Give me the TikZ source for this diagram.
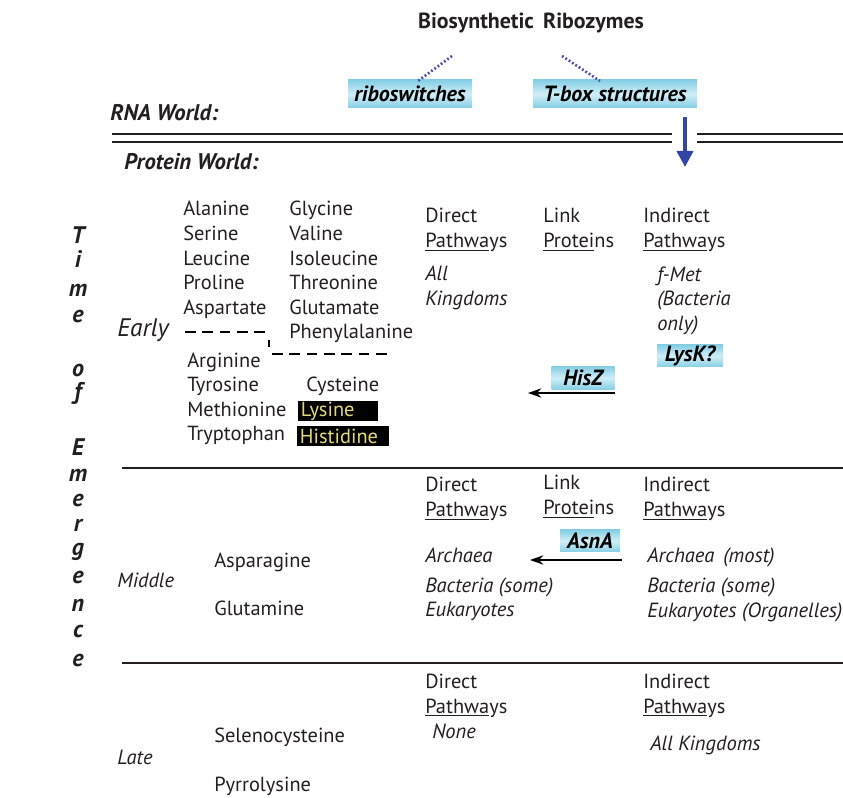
\documentclass[tikz,border=0pt]{standalone}
\usepackage{fontspec}
\setmainfont{PT Sans}
\usetikzlibrary{arrows.meta}
\definecolor{boxedge}{HTML}{86CFE5}
\definecolor{boxmid}{HTML}{D0EEF7}
\definecolor{dotblue}{HTML}{5050A8}
\definecolor{arrblue}{HTML}{3346A8}
\definecolor{lysyellow}{HTML}{E2DA78}
\definecolor{ink}{HTML}{231F20}
\begin{document}
\begin{tikzpicture}[x=0.75pt,y=-0.75pt,
  every node/.style={inner sep=0pt, text=ink},
  txt/.style={anchor=base west, font=\fontsize{15.3}{17}\selectfont},
  itx/.style={txt, font=\fontsize{15.4}{17}\selectfont\itshape},
  bix/.style={txt, font=\fontsize{17}{19}\selectfont\bfseries\itshape},
  bluebox/.style={top color=boxedge, bottom color=boxedge, middle color=boxmid,
    font=\fontsize{16.5}{18}\selectfont\bfseries\itshape, text=black},
  blackbox/.style={fill=black, text=lysyellow, anchor=west,
    font=\fontsize{15.3}{17}\selectfont, inner xsep=2pt},
  vlet/.style={font=\fontsize{18}{19}\selectfont\bfseries\itshape, anchor=base},
  thick rule/.style={line width=2.2pt, draw=ink},
  dotline/.style={dotblue, line width=2pt, dash pattern=on 1.4pt off 1.6pt}
]
\useasboundingbox (0,0) rectangle (843,798);

% title and RNA-world part
\node[font=\fontsize{16.4}{18}\selectfont\bfseries, anchor=base] (title) at (531,29) {Biosynthetic\, Ribozymes};
\node[bluebox, minimum width=124*0.75pt, minimum height=28*0.75pt] (ribo) at (410,94) {riboswitches};
\node[bluebox, minimum width=164*0.75pt, minimum height=28*0.75pt] (tbox) at (615,94) {T-box structures};
\coordinate (t1) at (452,56);
\coordinate (t2) at (562,56);
\coordinate (r1) at (418,81);
\coordinate (r2) at (600,81);
\draw[dotline] (t1) -- (r1);
\draw[dotline] (t2) -- (r2);

\node[bix] (rna) at (110,121) {RNA World:};
\node[bix] (prot) at (124,170) {Protein World:};

\coordinate (dlA) at (112,134);
\coordinate (dlB) at (672,134);
\coordinate (dlC) at (697,134);
\coordinate (dlD) at (843,134);
\coordinate (dlE) at (112,142);
\coordinate (dlF) at (672,142);
\coordinate (dlG) at (697,142);
\coordinate (dlH) at (843,142);
\draw[line width=2pt, draw=ink] (dlA) -- (dlB) (dlC) -- (dlD);
\draw[line width=2pt, draw=ink] (dlE) -- (dlF) (dlG) -- (dlH);

\coordinate (ba) at (685,117);
\coordinate (bb) at (685,167);
\draw[arrblue, line width=3pt, -{Triangle[length=12pt,width=12pt]}] (ba) -- (bb);

% vertical label
\foreach \l/\y [count=\i] in {T/244,i/268,m/297,e/323,o/377,f/400,E/456,m/482,e/507,r/532,g/556,e/583,n/611,c/637,e/666}
  \node[vlet] (v\i) at (78,\y) {\l};

% row labels
\node[itx, font=\fontsize{19}{20}\selectfont\itshape] (early) at (117,337) {Early};
\node[itx] (middle) at (117,587) {Middle};
\node[itx] (late) at (117,764) {Late};

% Early amino acids
\node[txt] (ala) at (183,216) {Alanine};
\node[txt] (ser) at (183,241) {Serine};
\node[txt] (leu) at (183,266) {Leucine};
\node[txt] (pro) at (183,290) {Proline};
\node[txt] (asp) at (183,315) {Aspartate};
\node[txt] (gly) at (289,216) {Glycine};
\node[txt] (val) at (289,241) {Valine};
\node[txt] (ile) at (289,266) {Isoleucine};
\node[txt] (thr) at (289,290) {Threonine};
\node[txt] (glu) at (289,315) {Glutamate};
\node[txt] (phe) at (289,339) {Phenylalanine};
\node[txt] (arg) at (187,368) {Arginine};
\node[txt] (tyr) at (187,392) {Tyrosine};
\node[txt] (met) at (187,417) {Methionine};
\node[txt] (trp) at (187,441) {Tryptophan};
\node[txt] (cys) at (306,392) {Cysteine};
\node[blackbox, minimum width=78*0.75pt, minimum height=20*0.75pt, text width=74*0.75pt] (lys) at (298,411) {Lysine};
\node[blackbox, minimum width=90*0.75pt, minimum height=20*0.75pt, text width=86*0.75pt] (his) at (297,436) {Histidine};

\coordinate (da) at (185,332);
\coordinate (db) at (267,332);
\coordinate (dc) at (269,340);
\coordinate (dd) at (269,347);
\coordinate (de) at (272,354);
\coordinate (df) at (388,354);
\draw[line width=1.8pt, dash pattern=on 8pt off 5pt] (da) -- (db);
\draw[line width=1.8pt] (dc) -- (dd);
\draw[line width=1.8pt, dash pattern=on 8pt off 5pt] (de) -- (df);

% Early pathway columns
\node[txt] (ed1) at (425,223) {Direct};
\node[txt] (ed2) at (425,248) {\underline{Pathwa}ys};
\node[txt] (el1) at (543,223) {Link};
\node[txt] (el2) at (543,248) {\underline{Protei}ns};
\node[txt] (ei1) at (643,223) {Indirect};
\node[txt] (ei2) at (643,248) {\underline{Pathwa}ys};
\node[itx] (eall1) at (425,281) {All};
\node[itx] (eall2) at (425,306) {Kingdoms};
\node[itx] (fm1) at (657,282) {f-Met};
\node[itx] (fm2) at (657,306) {(Bacteria};
\node[itx] (fm3) at (657,331) {only)};
\node[bluebox, minimum width=66*0.75pt, minimum height=22*0.75pt] (lysk) at (690,356) {LysK?};
\node[bluebox, minimum width=63*0.75pt, minimum height=23*0.75pt] (hisz) at (583,378) {HisZ};
\coordinate (ha) at (615,393);
\coordinate (hb) at (528,393);
\draw[line width=1.3pt, -{Stealth[length=10pt,width=7pt]}] (ha) -- (hb);

% first separator
\coordinate (s1a) at (122,468);
\coordinate (s1b) at (843,468);
\draw[thick rule] (s1a) -- (s1b);

% Middle
\node[txt] (asn) at (214,567) {Asparagine};
\node[txt] (gln) at (214,615) {Glutamine};
\node[txt] (md1) at (425,492) {Direct};
\node[txt] (md2) at (425,517) {\underline{Pathwa}ys};
\node[txt] (ml1) at (543,490) {Link};
\node[txt] (ml2) at (543,515) {\underline{Protei}ns};
\node[txt] (mi1) at (643,492) {Indirect};
\node[txt] (mi2) at (643,517) {\underline{Pathwa}ys};
\node[bluebox, minimum width=60*0.75pt, minimum height=22*0.75pt] (asna) at (590,541) {AsnA};
\coordinate (aa) at (622,560);
\coordinate (ab) at (530,560);
\draw[line width=1.3pt, -{Stealth[length=10pt,width=7pt]}] (aa) -- (ab);
\node[itx] (mda) at (425,562) {Archaea};
\node[itx] (mdb) at (425,592) {Bacteria (some)};
\node[itx] (mdc) at (425,616) {Eukaryotes};
\node[itx] (mia) at (647,562) {Archaea\, (most)};
\node[itx] (mib) at (647,592) {Bacteria (some)};
\node[itx] (mic) at (647,617) {Eukaryotes (Organelles)};

% second separator
\coordinate (s2a) at (122,663);
\coordinate (s2b) at (843,663);
\draw[thick rule] (s2a) -- (s2b);

% Late
\node[txt] (sec) at (214,742) {Selenocysteine};
\node[txt] (pyl) at (214,791) {Pyrrolysine};
\node[txt] (ld1) at (425,688) {Direct};
\node[txt] (ld2) at (425,713) {\underline{Pathwa}ys};
\node[itx] (lnone) at (432,738) {None};
\node[txt] (li1) at (643,688) {Indirect};
\node[txt] (li2) at (643,713) {\underline{Pathwa}ys};
\node[itx] (lall) at (650,750) {All Kingdoms};
\end{tikzpicture}
\end{document}
